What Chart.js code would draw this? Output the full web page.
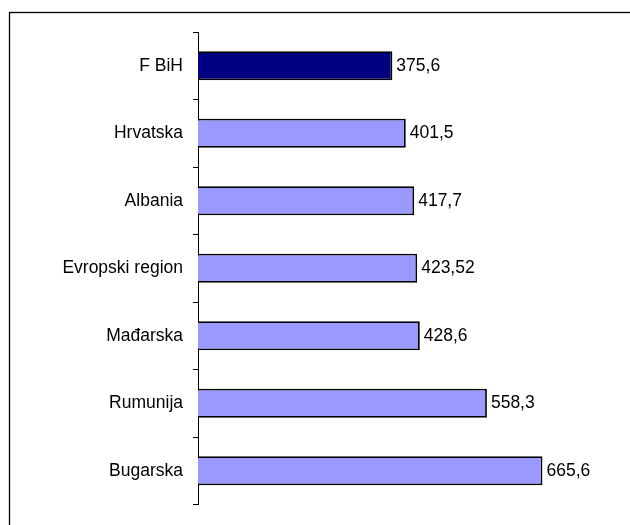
<!DOCTYPE html>
<html>
<head>
<meta charset="utf-8">
<script src="https://cdn.jsdelivr.net/npm/chart.js@4"></script>
<style>
  html, body { margin: 0; padding: 0; background: #fff; }
  #wrap { position: absolute; left: 0; top: 0; width: 630px; height: 525px; }
</style>
</head>
<body>
<div id="wrap"><canvas id="barChart" width="630" height="525"></canvas></div>
<script>
const countries = ["F BiH", "Hrvatska", "Albania", "Evropski region", "Mađarska", "Rumunija", "Bugarska"];
const rates = [375.6, 401.5, 417.7, 423.52, 428.6, 558.3, 665.6];
const barColors = ["#000080", "#9999FF", "#9999FF", "#9999FF", "#9999FF", "#9999FF", "#9999FF"];

Chart.defaults.font.family = "'Liberation Sans', Arial, sans-serif";
Chart.defaults.color = "#000";

// outer frame, cut off at the right and bottom like the original
const frame = {
  id: "frame",
  beforeDraw(chart) {
    const ctx = chart.ctx;
    ctx.save();
    ctx.strokeStyle = "#000";
    ctx.lineWidth = 1.3;
    ctx.strokeRect(9.5, 12.5, 700, 700);
    ctx.restore();
  }
};

// value labels at the end of each bar
const valueLabels = {
  id: "valueLabels",
  afterDatasetsDraw(chart) {
    const ctx = chart.ctx;
    const meta = chart.getDatasetMeta(0);
    ctx.save();
    ctx.font = "17.5px 'Liberation Sans', Arial, sans-serif";
    ctx.fillStyle = "#000";
    ctx.textAlign = "left";
    ctx.textBaseline = "middle";
    meta.data.forEach((bar, i) => {
      ctx.fillText(String(rates[i]).replace(".", ","), bar.x + 4, bar.y);
    });
    ctx.restore();
  }
};

new Chart(document.getElementById("barChart"), {
  type: "bar",
  data: {
    labels: countries,
    datasets: [{
      data: rates,
      backgroundColor: barColors,
      borderColor: "#000",
      borderWidth: 1.8,
      borderSkipped: "left",
      categoryPercentage: 1,
      barPercentage: 0.43
    }]
  },
  options: {
    indexAxis: "y",
    responsive: false,
    animation: false,
    layout: { padding: { top: 32, bottom: 13, left: 0, right: 18 } },
    plugins: { legend: { display: false }, tooltip: { enabled: false } },
    scales: {
      x: { display: false, min: 0, max: 800 },
      y: {
        afterFit(scale) { scale.width = 198; },
        border: { display: true, color: "#000", width: 1 },
        grid: {
          offset: true,
          drawOnChartArea: false,
          drawTicks: true,
          tickLength: 5,
          color: "#000"
        },
        ticks: { font: { size: 17.5 }, color: "#000", padding: 10 }
      }
    }
  },
  plugins: [frame, valueLabels]
});
</script>
</body>
</html>
